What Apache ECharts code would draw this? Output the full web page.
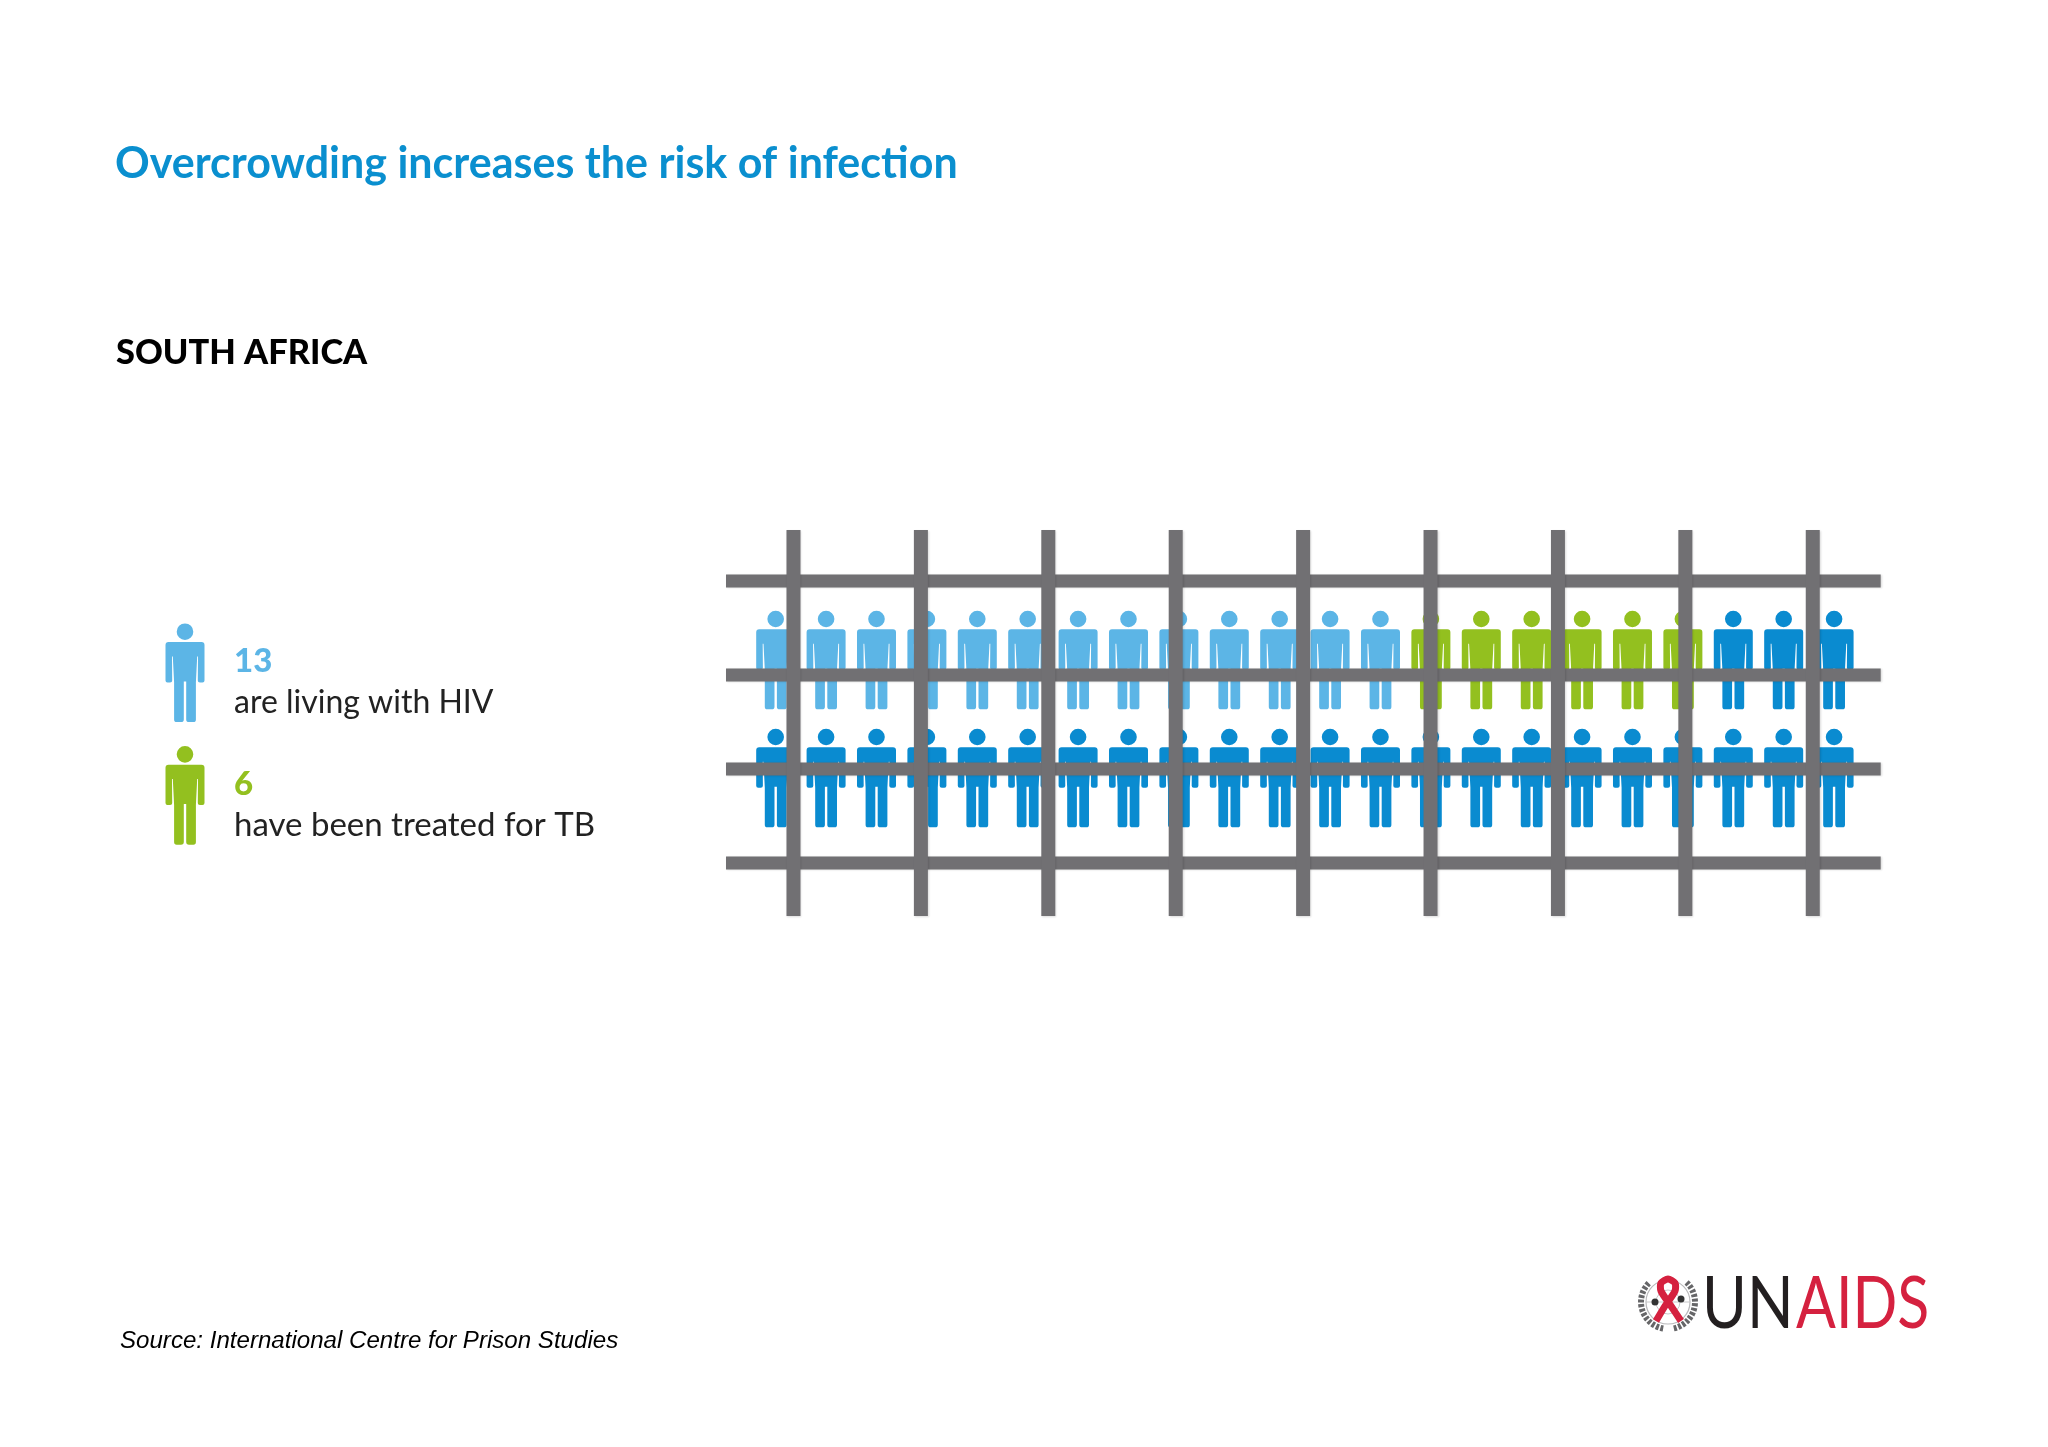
<!DOCTYPE html>
<html><head><meta charset="utf-8">
<style>html,body{margin:0;padding:0;background:#fff}#c{width:2048px;height:1447px}</style>
<script src="https://cdn.jsdelivr.net/npm/echarts@6/dist/echarts.min.js"></script>
</head><body><div id="c"></div>
<script>
// --- data ---
const titleText = 'Overcrowding increases the risk of infection';
const countryText = 'SOUTH AFRICA';
const sourceText = 'Source: International Centre for Prison Studies';
const upperRowGroups = ['hiv', 'tb', 'other'];
const upperRowCounts = [13, 6, 3];
const lowerRowCount = 22;
const legendCounts = [13, 6];
const legendLabels = ['are living with HIV', 'have been treated for TB'];
const legendGroups = ['hiv', 'tb'];
const barColumns = [0.353, 2.881, 5.409, 7.937, 10.465, 12.993, 15.521, 18.049, 20.577];
const barRows = [-0.67, 0.127, 0.923, 1.72];

// --- style ---
const colors = { hiv: '#5cb5e6', tb: '#93c01f', other: '#0a8bd0' };
const barColor = '#717073';
const legendTextSizes = [32, 33];
const personPath = 'path://M-8.3 8.3A8.3 8.3 0 1 1 8.3 8.3A8.3 8.3 0 1 1 -8.3 8.3Z' +
  'M-16.5 18.6H16.5Q19.5 18.6 19.5 21.6V57Q19.5 59 17.5 59H14.9Q12.8 59 12.8 57L13 33H12.2L10.9 59V96Q10.9 98.6 8.4 98.6H4Q1.2 98.6 1.2 96V58H-1.2V96Q-1.2 98.6 -4 98.6H-8.4Q-10.9 98.6 -10.9 96V59L-12.2 33H-13L-12.8 57Q-12.8 59 -14.9 59H-17.5Q-19.5 59 -19.5 57V21.6Q-19.5 18.6 -16.5 18.6Z';
const personSize = [39, 98.6];
const sans = 'Lato, "Open Sans", sans-serif';

// --- build person points ---
const points = { hiv: [], tb: [], other: [] };
let col = 0;
upperRowGroups.forEach((g, i) => {
  for (let n = 0; n < upperRowCounts[i]; n++) points[g].push([col++, 0]);
});
for (let n = 0; n < lowerRowCount; n++) points.other.push([n, 1]);

const personSeries = Object.keys(points).map(g => ({
  type: 'scatter', name: g, xAxisIndex: 0, yAxisIndex: 0, z: 2, silent: true,
  symbol: personPath, symbolSize: personSize, data: points[g],
  itemStyle: { color: colors[g], opacity: 1 }
}));

function barStyle() {
  return { fill: barColor, shadowColor: 'rgba(0,0,0,0.14)', shadowBlur: 2, shadowOffsetX: 1, shadowOffsetY: 1 };
}
const hBars = {
  type: 'custom', z: 3, silent: true, xAxisIndex: 0, yAxisIndex: 0, clip: false,
  data: barRows.map(v => [v]), encode: { y: 0 },
  renderItem(p, api) {
    const y = api.coord([0, api.value(0)])[1];
    return { type: 'rect', shape: { x: p.coordSys.x, y: y - 6.5, width: p.coordSys.width, height: 13 }, style: barStyle() };
  }
};
const vBars = {
  type: 'custom', z: 4, silent: true, xAxisIndex: 0, yAxisIndex: 0, clip: false,
  data: barColumns.map(v => [v]), encode: { x: 0 },
  renderItem(p, api) {
    const x = api.coord([api.value(0), 0])[0];
    return { type: 'rect', shape: { x: x - 7, y: p.coordSys.y, width: 14, height: p.coordSys.height }, style: barStyle() };
  }
};
const legendSeries = {
  type: 'scatter', xAxisIndex: 1, yAxisIndex: 1, z: 2, silent: true,
  symbol: personPath, symbolSize: personSize,
  data: legendGroups.map((g, i) => ({
    value: [0, i],
    itemStyle: { color: colors[g], opacity: 1 },
    label: {
      show: true, position: 'right', distance: 29.5, align: 'left', offset: [0, 9],
      formatter: '{c' + i + '|' + legendCounts[i] + '}\n{d|' + legendLabels[i] + '}',
      rich: {
        ['c' + i]: { color: colors[g], fontFamily: sans, fontWeight: 900, fontSize: 33, lineHeight: 41 },
        d: { color: '#222', fontFamily: sans, fontSize: legendTextSizes[i], lineHeight: 41 }
      }
    }
  }))
};

const logoRed = '#d5213f';
const option = {
  backgroundColor: '#ffffff',
  animation: false,
  title: [
    { text: titleText, left: 115, top: 143, padding: 0, textStyle: { color: '#0a8fcf', fontFamily: sans, fontWeight: 700, fontSize: 43 } },
    { text: countryText, left: 116, top: 336, padding: 0, textStyle: { color: '#000', fontFamily: sans, fontWeight: 900, fontSize: 34.4 } },
    { text: sourceText, left: 120, top: 1329, padding: 0, textStyle: { color: '#000', fontFamily: '"Liberation Sans", Arial, sans-serif', fontStyle: 'italic', fontWeight: 400, fontSize: 24.1 } }
  ],
  grid: [
    { left: 726, top: 530, width: 1154.7, height: 386 },
    { left: 150, top: 611.35, width: 70, height: 245.35 }
  ],
  xAxis: [
    { type: 'value', show: false, min: -0.986, max: 21.925, gridIndex: 0 },
    { type: 'value', show: false, min: -0.5, max: 0.5, gridIndex: 1 }
  ],
  yAxis: [
    { type: 'value', show: false, inverse: true, min: -1.1017, max: 2.1695, gridIndex: 0 },
    { type: 'value', show: false, inverse: true, min: -0.5, max: 1.5, gridIndex: 1 }
  ],
  series: [...personSeries, hBars, vBars, legendSeries],
  graphic: { elements: [
    { type: 'circle', silent: true, shape: { cx: 1668, cy: 1302, r: 22 }, style: { fill: '#fff', stroke: '#b9b9bb', lineWidth: 1.2 } },
    { type: 'circle', silent: true, shape: { cx: 1668, cy: 1302, r: 12 }, style: { fill: 'none', stroke: '#c8c8ca', lineWidth: 1 } },
    { type: 'line', silent: true, shape: { x1: 1646, y1: 1302, x2: 1690, y2: 1302 }, style: { stroke: '#c8c8ca', lineWidth: 1 } },
    { type: 'circle', silent: true, shape: { cx: 1655, cy: 1302, r: 3.5 }, style: { fill: '#333' } },
    { type: 'circle', silent: true, shape: { cx: 1681, cy: 1299, r: 3.5 }, style: { fill: '#333' } },
    { type: 'arc', silent: true, shape: { cx: 1668, cy: 1302, r: 27, startAngle: 1.75, endAngle: 3.95, clockwise: true }, style: { stroke: '#666668', lineWidth: 6, lineDash: [3, 1.6], fill: 'none' } },
    { type: 'arc', silent: true, shape: { cx: 1668, cy: 1302, r: 27, startAngle: -0.81, endAngle: 1.39, clockwise: true }, style: { stroke: '#666668', lineWidth: 6, lineDash: [3, 1.6], fill: 'none' } },
    { type: 'polyline', silent: true, shape: { points: [[1656, 1321], [1665, 1306], [1675, 1291], [1675, 1283], [1668, 1279], [1661, 1283], [1661, 1291], [1671, 1306], [1681, 1321]], smooth: 0.25 }, style: { stroke: logoRed, lineWidth: 7, fill: 'none' } },
    { type: 'text', silent: true, x: 1702, y: 1341, scaleX: 0.86, style: { x: 0, y: 0, text: 'UN', fill: '#231f20', font: '400 71px ' + sans, verticalAlign: 'bottom' } },
    { type: 'text', silent: true, x: 1796, y: 1341, scaleX: 0.83, style: { x: 0, y: 0, text: 'AIDS', fill: logoRed, font: '400 71px ' + sans, verticalAlign: 'bottom' } }
  ] }
};
echarts.init(document.getElementById('c'), null, { renderer: 'canvas' }).setOption(option);
</script></body></html>
